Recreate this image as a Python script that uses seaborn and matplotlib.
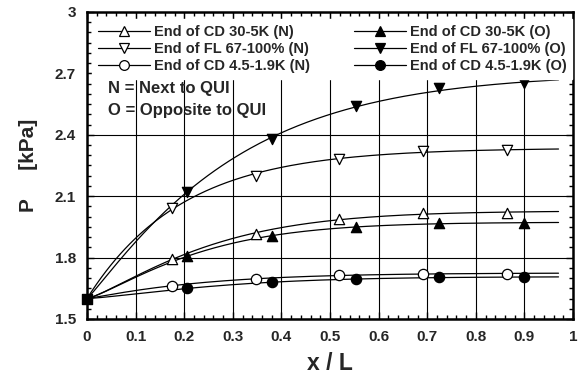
import numpy as np
import pandas as pd
import matplotlib
matplotlib.use("Agg")
import matplotlib.pyplot as plt
from matplotlib.lines import Line2D
from matplotlib.ticker import MultipleLocator, FuncFormatter
import seaborn as sns

sns.set_style("ticks")
plt.rcParams['font.family'] = ['Liberation Sans', 'DejaVu Sans']
plt.rcParams['font.weight'] = 'bold'

# data
x_n = [0.0, 0.174, 0.347, 0.519, 0.692, 0.865]
x_o = [0.0, 0.206, 0.381, 0.553, 0.725, 0.899]
cd30_n = [1.60, 1.792, 1.915, 1.989, 2.016, 2.019]
cd30_o = [1.60, 1.808, 1.905, 1.951, 1.968, 1.968]
fl67_n = [1.60, 2.044, 2.199, 2.282, 2.322, 2.326]
fl67_o = [1.60, 2.122, 2.379, 2.540, 2.627, 2.651]
cd45_n = [1.60, 1.663, 1.694, 1.715, 1.721, 1.721]
cd45_o = [1.60, 1.650, 1.679, 1.695, 1.704, 1.704]

labels = ["End of CD 30-5K (N)", "End of CD 30-5K (O)",
          "End of FL 67-100% (N)", "End of FL 67-100% (O)",
          "End of CD 4.5-1.9K (N)", "End of CD 4.5-1.9K (O)"]
series = [(x_n, cd30_n, '^', 'white'), (x_o, cd30_o, '^', 'black'),
          (x_n, fl67_n, 'v', 'white'), (x_o, fl67_o, 'v', 'black'),
          (x_n, cd45_n, 'o', 'white'), (x_o, cd45_o, 'o', 'black')]


def sat_fit(xs, ys, xgrid):
    """Least-squares trend y = y0 + A(1-exp(-k x^p)) fitted to the read points."""
    xs = np.asarray(xs); ys = np.asarray(ys)
    y0 = ys[0]
    best = None
    for p in np.linspace(1.0, 2.2, 25):
        for k in np.linspace(0.5, 25, 250):
            g = 1 - np.exp(-k * xs ** p)
            A = np.dot(g, ys - y0) / np.dot(g, g)
            err = np.sum((y0 + A * g - ys) ** 2)
            if best is None or err < best[0]:
                best = (err, k, p, A)
    _, k, p, A = best
    return y0 + A * (1 - np.exp(-k * xgrid ** p))


fig = plt.figure(figsize=(5.86, 3.76), dpi=100)
ax = fig.add_axes([0.1485, 0.1516, 0.8295, 0.8165])

xfit = np.linspace(0, 0.97, 200)
handles = []
for (xs, ys, m, fc), lab in zip(series, labels):
    dfit = pd.DataFrame({"x": xfit, "y": sat_fit(xs, ys, xfit)})
    sns.lineplot(data=dfit, x="x", y="y", ax=ax, color='black', lw=0.9, zorder=3)
    dpts = pd.DataFrame({"x": xs[1:], "y": ys[1:]})
    sns.scatterplot(data=dpts, x="x", y="y", ax=ax, marker=m, s=55,
                    facecolor=fc, edgecolor='black', linewidth=0.9, zorder=4)
    handles.append(Line2D([0], [0], color='black', lw=0.9, marker=m, markersize=7,
                          markerfacecolor=fc, markeredgecolor='black', markeredgewidth=0.9,
                          label=lab))

ax.scatter([0], [1.6], marker='s', s=50, color='black', zorder=5, clip_on=False)

ax.set_xlim(0, 1)
ax.set_ylim(1.5, 3)
ax.xaxis.set_major_locator(MultipleLocator(0.1))
ax.xaxis.set_minor_locator(MultipleLocator(0.02))
ax.yaxis.set_major_locator(MultipleLocator(0.3))
ax.yaxis.set_minor_locator(MultipleLocator(0.05))
ax.xaxis.set_major_formatter(FuncFormatter(lambda v, p: f"{v:g}"))
ax.yaxis.set_major_formatter(FuncFormatter(lambda v, p: f"{v:g}"))
ax.grid(True, which='major', color='black', lw=0.8)
ax.tick_params(which='both', direction='in', top=True, right=True, labelsize=11,
               width=1, color='black')
ax.tick_params(which='major', length=5)
ax.tick_params(which='minor', length=3)
ax.tick_params(axis='x', which='major', pad=8)
ax.tick_params(axis='y', which='major', pad=8)
for lab in ax.get_xticklabels() + ax.get_yticklabels():
    lab.set_fontweight('bold')
for sp in ax.spines.values():
    sp.set_linewidth(1.8)
    sp.set_color('black')

ax.set_xlabel("x / L", fontsize=16.5, fontweight='bold', labelpad=6)
ax.set_ylabel("P     [kPa]", fontsize=15, fontweight='bold', labelpad=12)

order = [0, 2, 4, 1, 3, 5]
leg = ax.legend(handles=[handles[i] for i in order], ncol=2, loc='upper left',
                bbox_to_anchor=(0.011, 0.977), frameon=True, fancybox=False,
                edgecolor='white', facecolor='white', framealpha=1,
                prop={'weight': 'bold', 'size': 10.5}, handlelength=3.56,
                handletextpad=0.27, columnspacing=3.0, labelspacing=0.2,
                borderaxespad=0.0, borderpad=0.4)
leg.set_zorder(6)

ax.text(0.043, 2.628, "N = Next to QUI", fontsize=12,
        fontweight='bold', va='center', ha='left', zorder=7)
ax.text(0.043, 2.521, "O = Opposite to QUI", fontsize=12,
        fontweight='bold', va='center', ha='left', zorder=7)

fig.savefig("out.png", dpi=100)
